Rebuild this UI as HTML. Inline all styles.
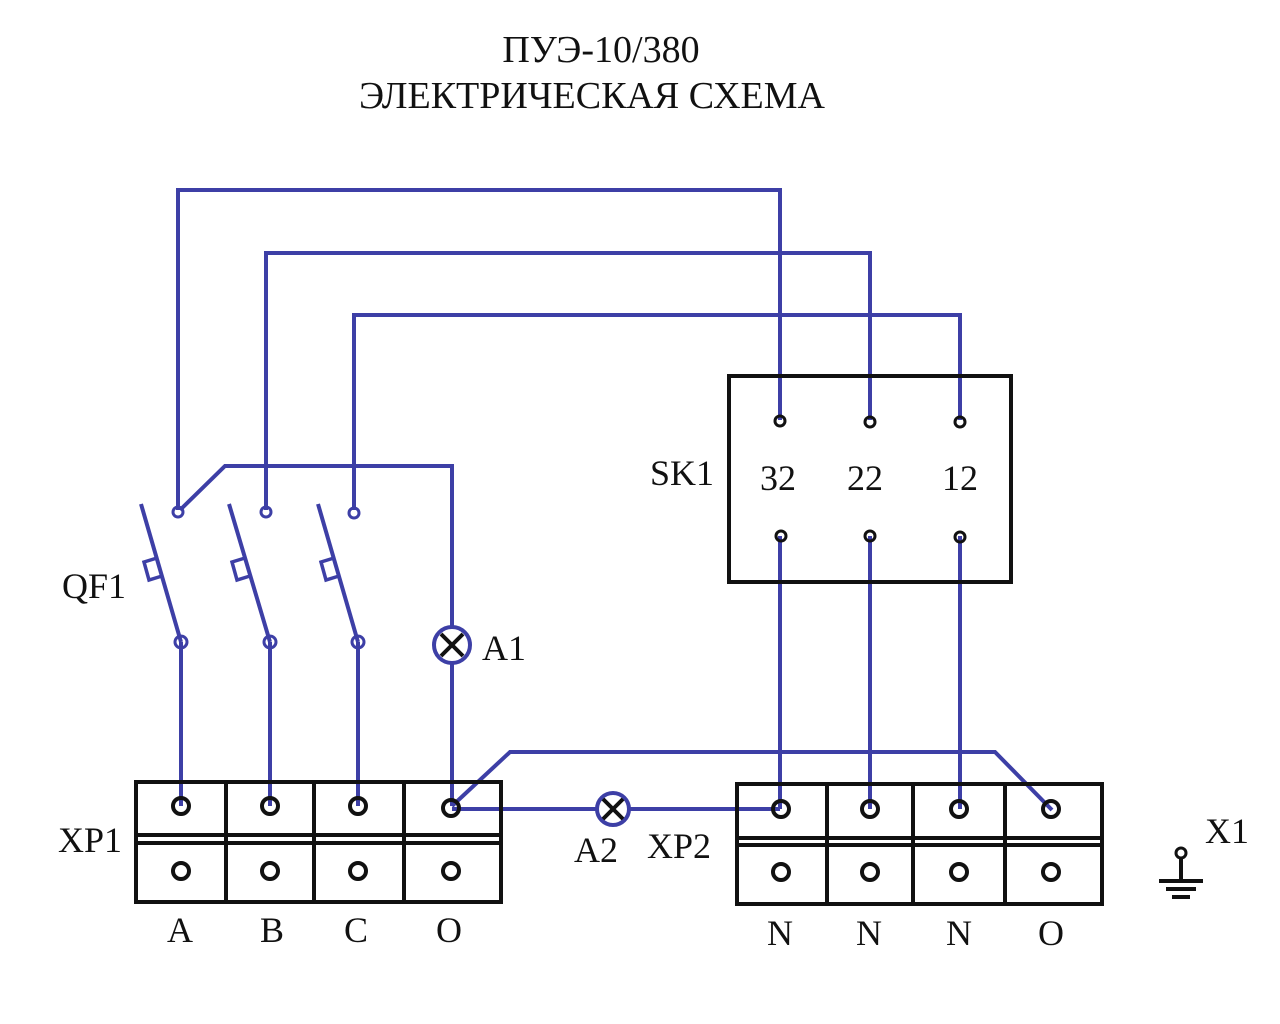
<!DOCTYPE html>
<html><head><meta charset="utf-8"><style>
html,body{margin:0;padding:0;background:#fff;width:1280px;height:1024px;overflow:hidden}
svg text{font-family:"Liberation Serif",serif;fill:#111}
</style></head><body>
<svg width="1280" height="1024" viewBox="0 0 1280 1024" xmlns="http://www.w3.org/2000/svg">
<text x="601" y="62" font-size="38" text-anchor="middle">ПУЭ-10/380</text>
<text x="592" y="108" font-size="38" text-anchor="middle">ЭЛЕКТРИЧЕСКАЯ СХЕМА</text>

<g stroke="#3d3fa6" stroke-width="4" fill="none">
  <polyline points="178,510 178,190 780,190 780,420"/>
  <polyline points="266,510 266,253 870,253 870,420"/>
  <polyline points="354,510 354,315 960,315 960,420"/>
  <polyline points="180,510 225,466 452,466 452,628"/>
  <line x1="452" y1="662" x2="452" y2="806"/>
  <line x1="181" y1="642" x2="181" y2="806"/>
  <line x1="270" y1="642" x2="270" y2="806"/>
  <line x1="358" y1="642" x2="358" y2="806"/>
  <polyline points="452,806 510,752 995,752 1052,810"/>
  <line x1="452" y1="809" x2="597" y2="809"/>
  <line x1="629" y1="809" x2="780" y2="809"/>
  <line x1="780" y1="536" x2="780" y2="809"/>
  <line x1="870" y1="536" x2="870" y2="809"/>
  <line x1="960" y1="536" x2="960" y2="809"/>
  <line x1="141" y1="504" x2="181" y2="642"/>
  <line x1="229" y1="504" x2="270" y2="642"/>
  <line x1="318" y1="504" x2="358" y2="642"/>
  <polyline points="157,558 144,562 149,580 162,576" stroke-width="3.5"/>
  <polyline points="245,558 232,562 237,580 250,576" stroke-width="3.5"/>
  <polyline points="334,558 321,562 326,580 339,576" stroke-width="3.5"/>
  <circle cx="178" cy="512" r="5" stroke-width="3"/>
  <circle cx="266" cy="512" r="5" stroke-width="3"/>
  <circle cx="354" cy="513" r="5" stroke-width="3"/>
  <circle cx="181" cy="642" r="6" stroke-width="3"/>
  <circle cx="270" cy="642" r="6" stroke-width="3"/>
  <circle cx="358" cy="642" r="6" stroke-width="3"/>
  <circle cx="452" cy="645" r="18" stroke-width="4"/>
  <circle cx="613" cy="809" r="16" stroke-width="4"/>
</g>
<g stroke="#111" stroke-width="4">
  <line x1="441" y1="634" x2="463" y2="656"/><line x1="463" y1="634" x2="441" y2="656"/>
  <line x1="603" y1="799" x2="623" y2="819"/><line x1="623" y1="799" x2="603" y2="819"/>
</g>

<g stroke="#111" stroke-width="4" fill="none">
  <rect x="136" y="782" width="365" height="120"/>
  <line x1="136" y1="835" x2="501" y2="835"/>
  <line x1="136" y1="843" x2="501" y2="843"/>
  <line x1="226" y1="782" x2="226" y2="902"/>
  <line x1="314" y1="782" x2="314" y2="902"/>
  <line x1="404" y1="782" x2="404" y2="902"/>
  <circle cx="181" cy="806" r="8"/><circle cx="270" cy="806" r="8"/><circle cx="358" cy="806" r="8"/><circle cx="451" cy="808" r="8"/>
  <circle cx="181" cy="871" r="8"/><circle cx="270" cy="871" r="8"/><circle cx="358" cy="871" r="8"/><circle cx="451" cy="871" r="8"/>
  <rect x="737" y="784" width="365" height="120"/>
  <line x1="737" y1="838" x2="1102" y2="838"/>
  <line x1="737" y1="845" x2="1102" y2="845"/>
  <line x1="827" y1="784" x2="827" y2="904"/>
  <line x1="913" y1="784" x2="913" y2="904"/>
  <line x1="1005" y1="784" x2="1005" y2="904"/>
  <circle cx="781" cy="809" r="8"/><circle cx="870" cy="809" r="8"/><circle cx="959" cy="809" r="8"/><circle cx="1051" cy="809" r="8"/>
  <circle cx="781" cy="872" r="8"/><circle cx="870" cy="872" r="8"/><circle cx="959" cy="872" r="8"/><circle cx="1051" cy="872" r="8"/>
  <rect x="729" y="376" width="282" height="206"/>
  <circle cx="780" cy="421" r="5" stroke-width="3"/><circle cx="870" cy="422" r="5" stroke-width="3"/><circle cx="960" cy="422" r="5" stroke-width="3"/>
  <circle cx="781" cy="536" r="5" stroke-width="3"/><circle cx="870" cy="536" r="5" stroke-width="3"/><circle cx="960" cy="537" r="5" stroke-width="3"/>
  <circle cx="1181" cy="853" r="5" stroke-width="3"/>
  <line x1="1181" y1="858" x2="1181" y2="880"/>
  <line x1="1159" y1="881" x2="1203" y2="881"/>
  <line x1="1166" y1="889" x2="1196" y2="889"/>
  <line x1="1172" y1="897" x2="1190" y2="897"/>
</g>

<g font-size="36">
<text x="62" y="598">QF1</text>
<text x="482" y="660">A1</text>
<text x="58" y="852">XP1</text>
<text x="574" y="862">A2</text>
<text x="647" y="858">XP2</text>
<text x="1205" y="843">X1</text>
<text x="650" y="485">SK1</text>
<text x="778" y="490" text-anchor="middle">32</text>
<text x="865" y="490" text-anchor="middle">22</text>
<text x="960" y="490" text-anchor="middle">12</text>
<text x="180" y="942" text-anchor="middle">A</text>
<text x="272" y="942" text-anchor="middle">B</text>
<text x="356" y="942" text-anchor="middle">C</text>
<text x="449" y="942" text-anchor="middle">O</text>
<text x="780" y="945" text-anchor="middle">N</text>
<text x="869" y="945" text-anchor="middle">N</text>
<text x="959" y="945" text-anchor="middle">N</text>
<text x="1051" y="945" text-anchor="middle">O</text>
</g>
</svg>
</body></html>
